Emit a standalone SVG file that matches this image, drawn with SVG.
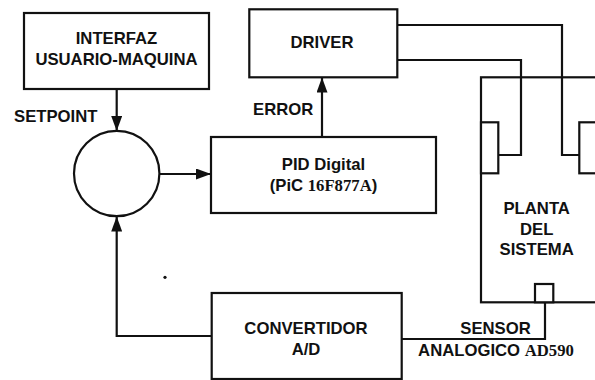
<svg xmlns="http://www.w3.org/2000/svg" width="595" height="380" viewBox="0 0 595 380">
<style>
.b{fill:#fff;stroke:#111;stroke-width:2.2}
.o{fill:none;stroke:#111;stroke-width:2.2}
.w{fill:none;stroke:#111;stroke-width:2.2}
.t{font-family:"Liberation Sans",Arial,sans-serif;font-weight:bold;font-size:16.7px;fill:#111;text-anchor:middle}
.l{font-family:"Liberation Sans",Arial,sans-serif;font-weight:bold;font-size:16.7px;fill:#111}
.s{font-family:"Liberation Serif","Times New Roman",serif;font-weight:bold}
</style>
<defs>
<marker id="ah" markerUnits="userSpaceOnUse" markerWidth="15" markerHeight="11" refX="15" refY="5.5" orient="auto">
<path d="M0,0 L15,5.5 L0,11 z" fill="#111"/>
</marker>
</defs>
<rect width="595" height="380" fill="#fff"/>
<g id="interfaz">
<rect class="b" x="24" y="13" width="185" height="76"/>
<text class="t" x="116.5" y="44.3">INTERFAZ</text>
<text class="t" x="116.5" y="65">USUARIO-MAQUINA</text>
</g>
<g id="setpoint-label">
<text class="l" x="14" y="122">SETPOINT</text>
</g>
<g id="sumador">
<circle class="b" cx="116.7" cy="173.5" r="42.7"/>
</g>
<g id="pid">
<rect class="b" x="211" y="137" width="225" height="76"/>
<text class="t" x="323.5" y="169.5">PID Digital</text>
<text class="t" x="323.5" y="191">(PiC <tspan class="s">16F877A</tspan>)</text>
</g>
<g id="error-label">
<text class="l" x="253" y="115">ERROR</text>
</g>
<g id="driver">
<rect class="b" x="249.3" y="9.3" width="148" height="68"/>
<text class="t" x="322" y="48.3">DRIVER</text>
</g>
<g id="planta">
<rect class="o" x="481" y="77.3" width="122" height="225"/>
<rect class="b" x="481" y="122.3" width="17.3" height="51"/>
<rect class="b" x="579.3" y="122.3" width="22" height="51"/>
<rect class="b" x="535" y="284" width="18.3" height="18.3"/>
<text class="t" x="536.7" y="214">PLANTA</text>
<text class="t" x="536.7" y="235">DEL</text>
<text class="t" x="536.7" y="255">SISTEMA</text>
</g>
<g id="convertidor">
<rect class="b" x="211.7" y="293" width="190" height="86"/>
<text class="t" x="306" y="334.3">CONVERTIDOR</text>
<text class="t" x="306" y="355">A/D</text>
</g>
<g id="sensor-label">
<text class="t" x="495.5" y="334">SENSOR</text>
<text class="t" x="496" y="355.7">ANALOGICO <tspan class="s">AD590</tspan></text>
</g>
<g id="connectors">
<path class="w" d="M116.7,89 V131" marker-end="url(#ah)"/>
<path class="w" d="M159,174 H211" marker-end="url(#ah)"/>
<path class="w" d="M322,137 V77.5" marker-end="url(#ah)"/>
<path class="w" d="M212,336 H116.7 V216.5" marker-end="url(#ah)"/>
<path class="w" d="M397,25 H562 V155 H579"/>
<path class="w" d="M397,60 H521 V155 H498"/>
<path class="w" d="M545,302 V339 H402"/>
</g>
<circle cx="165" cy="277.3" r="1.6" fill="#111"/>
</svg>
